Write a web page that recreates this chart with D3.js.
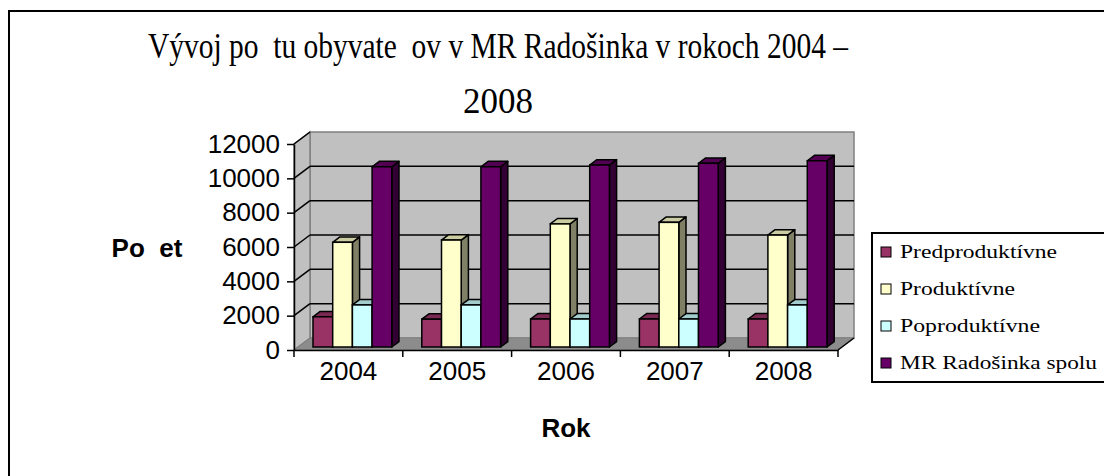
<!DOCTYPE html>
<html>
<head>
<meta charset="utf-8">
<script src="https://cdn.jsdelivr.net/npm/d3@7"></script>
<style>
  body { margin: 0; background: #fff; }
  svg { display: block; }
</style>
</head>
<body>
<script>
var categories = ['2004', '2005', '2006', '2007', '2008'];
var seriesNames = ['Predproduktívne', 'Produktívne', 'Poproduktívne', 'MR Radošinka spolu'];
var predprod = [1760, 1620, 1630, 1630, 1630];
var prod = [6100, 6230, 7170, 7260, 6520];
var poprod = [2450, 2450, 1630, 1630, 2450];
var spolu = [10500, 10500, 10600, 10700, 10850];
var yTicks = [0, 2000, 4000, 6000, 8000, 10000, 12000];

var seriesValues = [predprod, prod, poprod, spolu];
// front, top, side colours
var colors = [
  ['#993366', '#7a2952', '#4d1a33'],
  ['#ffffcc', '#cccca3', '#808066'],
  ['#ccffff', '#a3cccc', '#668080'],
  ['#660066', '#520052', '#330033']
];

var screen = { width: 1104, height: 476 };
var svg = d3.select('body').append('svg')
            .attr('width', screen.width)
            .attr('height', screen.height);

// outer frame
svg.append('rect')
   .attr('x', 9).attr('y', 11)
   .attr('width', 1110).attr('height', 480)
   .attr('fill', 'none').attr('stroke', '#000').attr('stroke-width', 2);

// chart geometry (front plane + depth offset)
var plot = { left: 294, right: 838, top: 144, bottom: 350 };
var depth = { dx: 16, dy: -12 };

var xScale = d3.scaleBand()
               .domain(categories)
               .range([plot.left, plot.right])
               .padding(0);
var inner = d3.scaleBand()
              .domain(d3.range(seriesNames.length))
              .range([15, xScale.bandwidth() - 15])
              .padding(0);
var yScale = d3.scaleLinear()
               .domain([0, 12000])
               .range([plot.bottom, plot.top]);

var walls = svg.append('g').classed('walls', true);
// back wall
walls.append('rect')
     .attr('x', plot.left + depth.dx).attr('y', plot.top + depth.dy)
     .attr('width', plot.right - plot.left).attr('height', plot.bottom - plot.top)
     .attr('fill', '#c0c0c0').attr('stroke', '#808080').attr('stroke-width', 1.5);
// left wall
walls.append('polygon')
     .attr('points', [
       [plot.left, plot.top], [plot.left + depth.dx, plot.top + depth.dy],
       [plot.left + depth.dx, plot.bottom + depth.dy], [plot.left, plot.bottom]
     ].join(' '))
     .attr('fill', '#c0c0c0').attr('stroke', '#808080').attr('stroke-width', 1.5);
// gridlines on back wall
walls.selectAll('line.grid')
     .data(yTicks.filter(function(d){ return d > 0 && d < 12000; }))
     .enter().append('line')
     .classed('grid', true)
     .attr('x1', plot.left + depth.dx).attr('x2', plot.right + depth.dx)
     .attr('y1', function(d){ return yScale(d) + depth.dy; })
     .attr('y2', function(d){ return yScale(d) + depth.dy; })
     .attr('stroke', '#000').attr('stroke-width', 1.5);
// gridlines on left wall
walls.selectAll('line.side')
     .data(yTicks.filter(function(d){ return d > 0; }))
     .enter().append('line')
     .classed('side', true)
     .attr('x1', plot.left).attr('x2', plot.left + depth.dx)
     .attr('y1', function(d){ return yScale(d); })
     .attr('y2', function(d){ return yScale(d) + depth.dy; })
     .attr('stroke', '#000').attr('stroke-width', 1.5);
// floor
walls.append('polygon')
     .attr('points', [
       [plot.left, plot.bottom], [plot.right, plot.bottom],
       [plot.right + depth.dx, plot.bottom + depth.dy], [plot.left + depth.dx, plot.bottom + depth.dy]
     ].join(' '))
     .attr('fill', '#8c8c8c').attr('stroke', '#808080').attr('stroke-width', 1);
walls.append('line')
     .attr('x1', plot.right).attr('y1', plot.bottom)
     .attr('x2', plot.right + depth.dx).attr('y2', plot.bottom + depth.dy)
     .attr('stroke', '#000').attr('stroke-width', 1.5);

// bars
var front = 0.25, back = 0.7;
var bdx = depth.dx * (back - front), bdy = depth.dy * (back - front);
var bars = svg.append('g').classed('bars', true);
var barData = [];
categories.forEach(function(c, ci){
  seriesValues.forEach(function(vals, si){
    barData.push({ cat: c, s: si, v: vals[ci] });
  });
});
bars.selectAll('g.bar')
    .data(barData)
    .enter().append('g')
    .classed('bar', true)
    .each(function(d){
      var g = d3.select(this);
      var x0 = xScale(d.cat) + inner(d.s) + depth.dx * front;
      var w = inner.bandwidth();
      var yt = yScale(d.v) + depth.dy * front;
      var yb = yScale(0) + depth.dy * front;
      var c = colors[d.s];
      g.append('polygon')
       .attr('points', [[x0 + w, yt], [x0 + w + bdx, yt + bdy], [x0 + w + bdx, yb + bdy], [x0 + w, yb]].join(' '))
       .attr('fill', c[2]).attr('stroke', '#000').attr('stroke-width', 1.5).attr('stroke-linejoin', 'round');
      g.append('polygon')
       .attr('points', [[x0, yt], [x0 + w, yt], [x0 + w + bdx, yt + bdy], [x0 + bdx, yt + bdy]].join(' '))
       .attr('fill', c[1]).attr('stroke', '#000').attr('stroke-width', 1.5).attr('stroke-linejoin', 'round');
      g.append('rect')
       .attr('x', x0).attr('y', yt)
       .attr('width', w).attr('height', yb - yt)
       .attr('fill', c[0]).attr('stroke', '#000').attr('stroke-width', 1.5);
    });

// y axis
var yAxis = d3.axisLeft(yScale)
              .tickValues(yTicks)
              .tickSize(7)
              .tickSizeOuter(0)
              .tickPadding(7)
              .tickFormat(d3.format('d'));
var yG = svg.append('g')
            .attr('transform', 'translate(' + plot.left + ',0)')
            .call(yAxis);
yG.select('.domain').attr('stroke', '#000').attr('stroke-width', 1.5);
yG.selectAll('.tick line').attr('stroke', '#000').attr('stroke-width', 1.5);
yG.selectAll('.tick text')
  .attr('fill', '#000')
  .style('font-family', 'Arial, "Liberation Sans", sans-serif')
  .style('font-size', '26px');

// x axis
var xAxis = d3.axisBottom(xScale).tickSize(0).tickPadding(12);
var xG = svg.append('g')
            .attr('transform', 'translate(0,' + plot.bottom + ')')
            .call(xAxis);
xG.select('.domain').attr('stroke', '#000').attr('stroke-width', 1.5);
xG.selectAll('.tick text')
  .attr('fill', '#000')
  .style('font-family', 'Arial, "Liberation Sans", sans-serif')
  .style('font-size', '26px');
xG.selectAll('line.sep')
  .data(categories.map(function(c){ return xScale(c); }).concat([plot.right]))
  .enter().append('line')
  .classed('sep', true)
  .attr('x1', function(d){ return d; }).attr('x2', function(d){ return d; })
  .attr('y1', 0).attr('y2', 7)
  .attr('stroke', '#000').attr('stroke-width', 1.5);

// axis titles
svg.append('text')
   .attr('x', 147).attr('y', 257)
   .attr('text-anchor', 'middle')
   .style('font-family', 'Arial, "Liberation Sans", sans-serif')
   .style('font-size', '26px').style('font-weight', 'bold')
   .text('Po\u00a0\u00a0et');
svg.append('text')
   .attr('x', 566).attr('y', 437)
   .attr('text-anchor', 'middle')
   .style('font-family', 'Arial, "Liberation Sans", sans-serif')
   .style('font-size', '26px').style('font-weight', 'bold')
   .text('Rok');

// title
var title = svg.append('g').classed('title', true)
               .style('font-family', '"Liberation Serif", "Times New Roman", serif')
               .style('font-size', '35px');
title.append('text')
     .attr('x', 148).attr('y', 58)
     .attr('textLength', 700).attr('lengthAdjust', 'spacingAndGlyphs')
     .text('Vývoj po\u00a0\u00a0tu obyvate\u00a0\u00a0ov v MR Radošinka v rokoch 2004 –');
title.append('text')
     .attr('x', 463).attr('y', 113)
     .attr('textLength', 70).attr('lengthAdjust', 'spacingAndGlyphs')
     .text('2008');

// legend
var legend = svg.append('g').classed('legend', true)
                .attr('transform', 'translate(872,233)');
legend.append('rect')
      .attr('x', 0).attr('y', 0).attr('width', 250).attr('height', 149)
      .attr('fill', '#fff').attr('stroke', '#000').attr('stroke-width', 2);
var legendWidths = [157, 115, 140, 197];
var items = legend.selectAll('g.item')
                  .data(seriesNames)
                  .enter().append('g')
                  .classed('item', true)
                  .attr('transform', function(d, i){ return 'translate(0,' + (19 + i * 37) + ')'; });
items.append('rect')
     .attr('x', 9).attr('y', -5).attr('width', 10).attr('height', 10)
     .attr('fill', function(d, i){ return colors[i][0]; })
     .attr('stroke', '#000').attr('stroke-width', 1);
items.append('text')
     .attr('x', 28).attr('y', 6)
     .attr('textLength', function(d, i){ return legendWidths[i]; })
     .attr('lengthAdjust', 'spacingAndGlyphs')
     .style('font-family', '"Liberation Serif", "Times New Roman", serif')
     .style('font-size', '19px')
     .text(function(d){ return d; });
</script>
</body>
</html>
